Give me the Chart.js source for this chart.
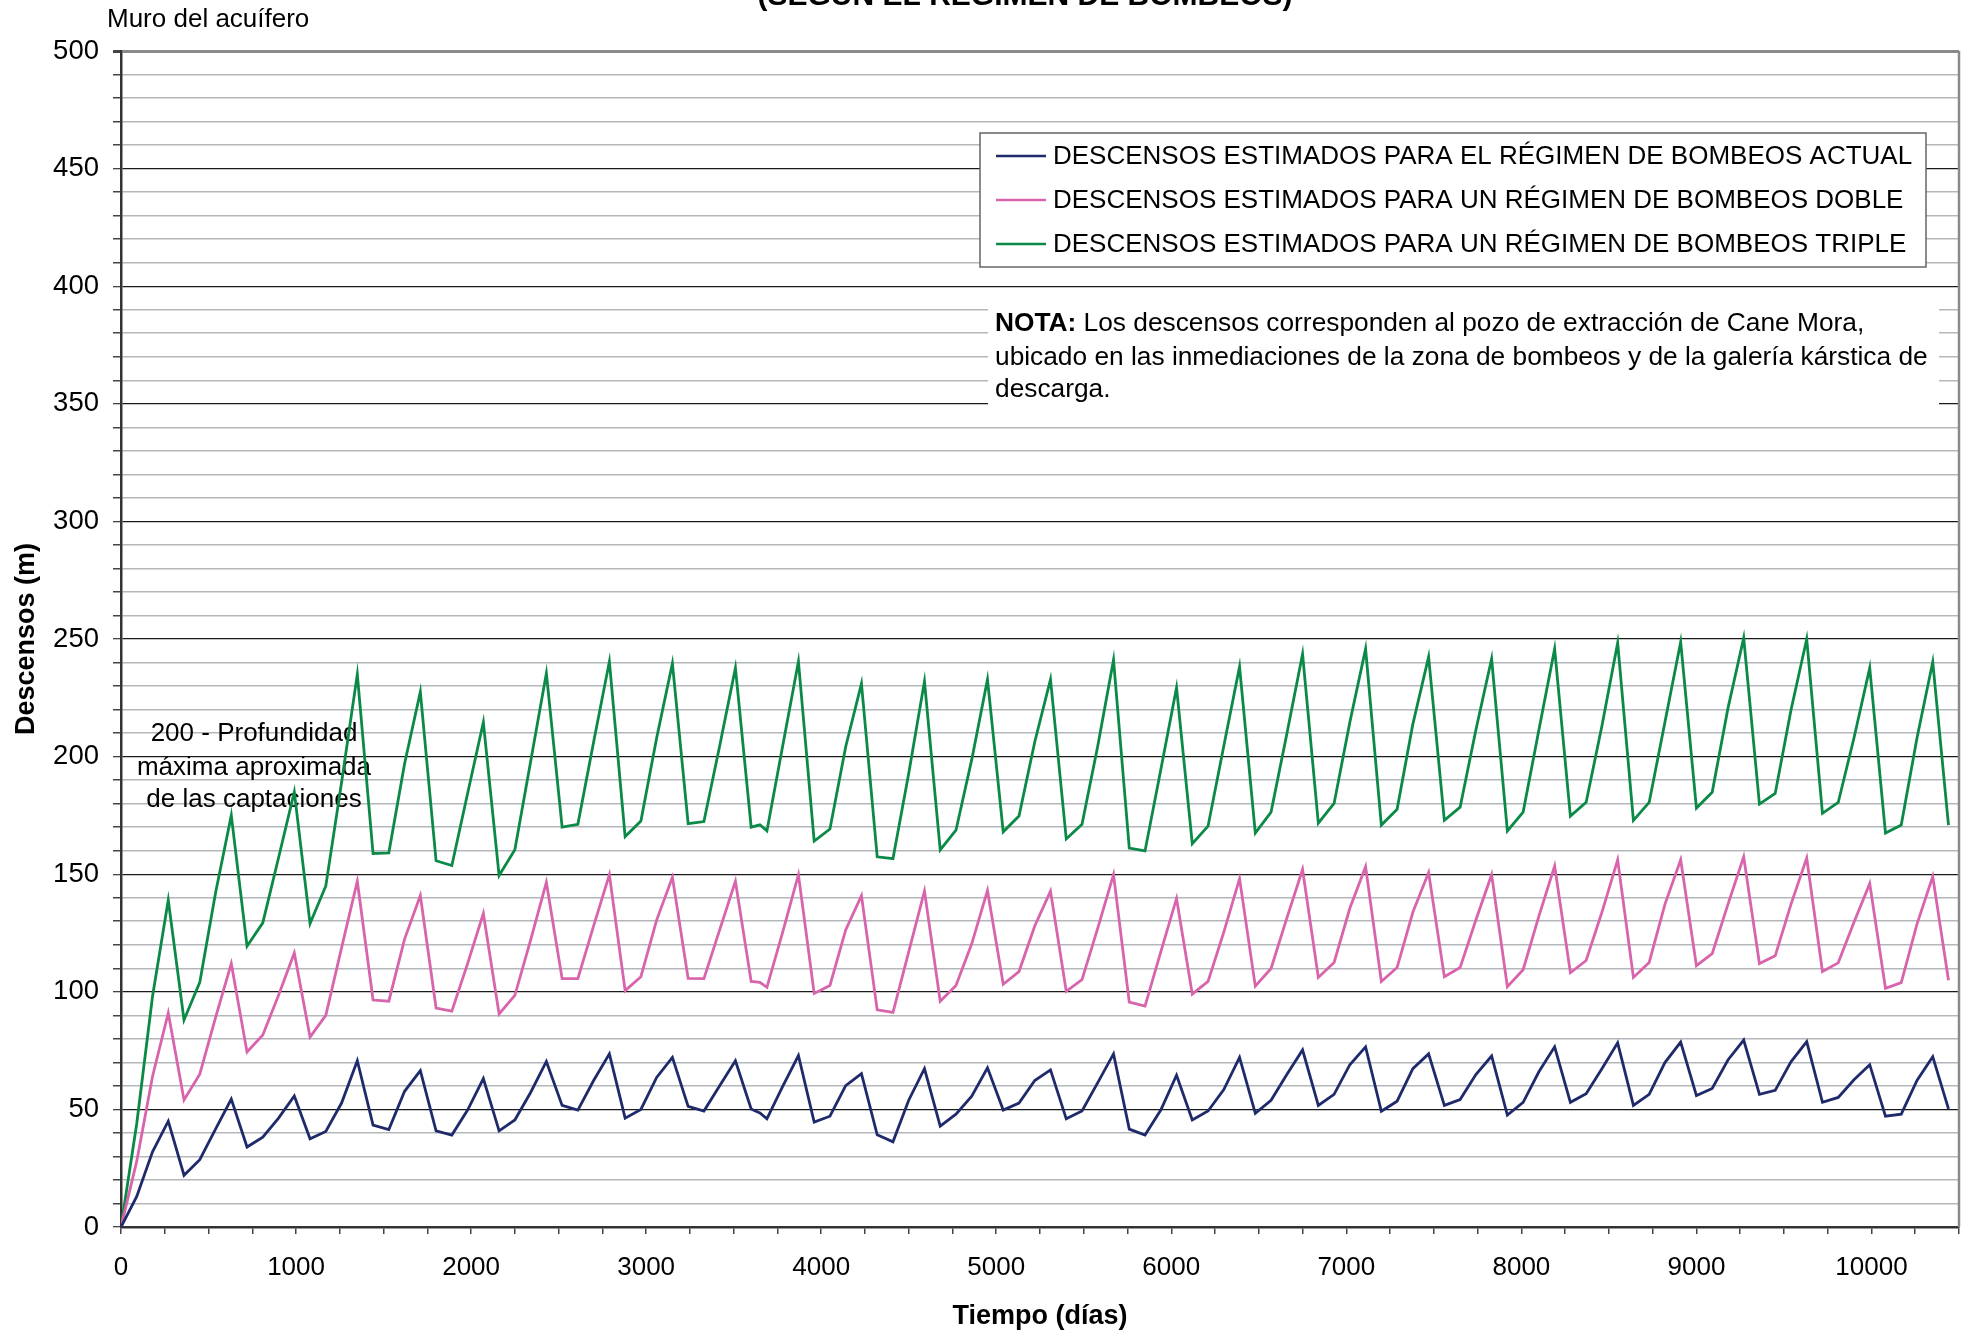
<!DOCTYPE html>
<html>
<head>
<meta charset="utf-8">
<script src="https://cdn.jsdelivr.net/npm/chart.js@4.4.1/dist/chart.umd.min.js"></script>
<style>
  html, body { margin: 0; padding: 0; background: #fff; }
  #wrap { width: 1966px; height: 1333px; }
</style>
</head>
<body>
<div id="wrap"><canvas id="descensos" width="1966" height="1333"></canvas></div>
<script>
// Tiempo (días) de cada punto calculado
const dias = [0, 90, 180, 270, 360, 450, 540, 630, 720, 810, 900, 990, 1080, 1170, 1260, 1350, 1440, 1530, 1620, 1710,
  1800, 1890, 1980, 2070, 2160, 2250, 2340, 2430, 2520, 2610, 2700, 2790, 2880, 2970, 3060, 3150, 3240, 3330, 3420, 3510,
  3600, 3650, 3690, 3780, 3870, 3960, 4050, 4140, 4230, 4320, 4410, 4500, 4590, 4680, 4770, 4860, 4950, 5040, 5130, 5220,
  5310, 5400, 5490, 5580, 5670, 5760, 5850, 5940, 6030, 6120, 6210, 6300, 6390, 6480, 6570, 6660, 6750, 6840, 6930, 7020,
  7110, 7200, 7290, 7380, 7470, 7560, 7650, 7740, 7830, 7920, 8010, 8100, 8190, 8280, 8370, 8460, 8550, 8640, 8730, 8820,
  8910, 9000, 9090, 9180, 9270, 9360, 9450, 9540, 9630, 9720, 9810, 9900, 9990, 10080, 10170, 10260, 10350, 10440];

// Descensos (m) - régimen actual
const actual = [0, 13, 32, 45, 22, 28.6, 41.6, 54.4, 34, 38.2, 46.3, 55.7, 37.5, 40.6, 52.7, 70.7, 43.3, 41.4, 57.7, 66.5,
  40.9, 39.1, 49.7, 63.1, 40.9, 45.5, 57.2, 70.4, 51.7, 49.7, 62.3, 73.6, 46.3, 50, 63.6, 72.1, 51.3, 49.3, 60.1, 70.7,
  50.2, 48.5, 46, 59.8, 72.9, 44.6, 47.1, 60.1, 65.2, 39.2, 36.2, 53.9, 67.3, 42.9, 48, 55.6, 67.7, 49.7, 52.7, 62.3,
  66.8, 46, 49.3, 61.4, 73.6, 41.6, 39.1, 49.7, 64.5, 45.5, 49.3, 58.4, 72.1, 48.3, 53.9, 64.8, 75.3, 51.7, 56.4, 69,
  76.6, 49.2, 53.5, 67.3, 73.6, 51.7, 54.2, 64.8, 72.7, 47.6, 53, 66, 76.6, 53, 56.7, 67.3, 78.3, 51.7, 56.4, 69.9,
  78.6, 55.9, 58.9, 71, 79.5, 56.4, 58.1, 70.2, 78.8, 53, 55.1, 62.6, 69, 47.1, 48, 62.3, 72.4, 50.2];

// Descensos (m) - régimen doble
const doble = [0, 28, 64, 91, 54, 65, 89, 112, 74.4, 81.6, 98.5, 116.5, 80.8, 90, 118.7, 147, 96.5, 96, 122.4, 140.9,
  93.1, 91.8, 112, 133.3, 90.6, 98.5, 122, 146.5, 105.6, 105.6, 128, 149.8, 100.5, 106.4, 130.5, 148.7, 105.7, 105.6, 126.3, 147,
  104.4, 104, 101.9, 125.4, 149.8, 99.3, 102.7, 126.3, 140.9, 92.3, 91.2, 117, 142.8, 96, 102.7, 120.4, 143.1, 103.2, 108.6, 128,
  142.8, 100.2, 105.2, 127.1, 149.8, 95.6, 93.9, 117, 139.7, 99, 104.4, 125.4, 148.1, 102.4, 109.9, 131.3, 152, 106.1, 112.5, 135.5,
  153.2, 104.4, 110.3, 133.8, 150.7, 106.4, 110.3, 130.5, 149.8, 102.2, 109.4, 132.2, 153.5, 108.1, 113.3, 133.8, 156.1, 106.1, 112.5, 137.2,
  156.1, 111.1, 116.2, 137.2, 157.4, 112, 115.3, 137.2, 156.9, 108.6, 112.3, 129.6, 146, 101.5, 103.9, 128.8, 149, 104.9];

// Descensos (m) - régimen triple
const triple = [0, 44, 98, 139, 88, 104, 142, 175, 119.4, 129.3, 157, 185, 129, 145, 189, 235, 158.8, 159.1, 197, 227.5,
  155.7, 153.7, 184.3, 214.6, 149.5, 160.4, 197.8, 235.4, 170, 171.2, 206.2, 240.4, 166, 172.6, 207.9, 239.6, 171.5, 172.4, 204.5, 237.7,
  170, 171, 168.4, 204.5, 240.4, 164.1, 169.2, 204.2, 231, 157.4, 156.6, 192.8, 232, 160.3, 168.7, 198.7, 232.8, 168, 174.7, 206.2,
  232.8, 165, 171.2, 204.5, 241.1, 161.1, 159.9, 194.4, 229.3, 163, 170.4, 204.5, 238.2, 167.5, 176.4, 209.6, 243.6, 171.7, 180.1, 214.6,
  245.8, 170.9, 177.6, 213.8, 242.4, 172.9, 178.5, 211.3, 241.6, 168.4, 176.4, 211.3, 245.8, 174.7, 180.6, 213, 248.3, 172.9, 180.5, 214.6,
  248.7, 178.1, 184.8, 220.5, 250.5, 179.8, 184.3, 219.7, 250, 175.9, 180.5, 207.9, 237.7, 167.5, 170.9, 207.9, 240.2, 170.9];

const series = [
  "DESCENSOS ESTIMADOS PARA EL RÉGIMEN DE BOMBEOS ACTUAL",
  "DESCENSOS ESTIMADOS PARA UN RÉGIMEN DE BOMBEOS DOBLE",
  "DESCENSOS ESTIMADOS PARA UN RÉGIMEN DE BOMBEOS TRIPLE"
];
const colores = ["#1f2a6b", "#d864ac", "#0a8a46"];

const tituloCortado = "(SEGÚN EL RÉGIMEN DE BOMBEOS)";
const muro = "Muro del acuífero";
const profundidad = ["200 - Profundidad", "máxima aproximada", "de las captaciones"];
const nota = [
  ["NOTA:", " Los descensos corresponden al pozo de extracción de Cane Mora,"],
  ["", "ubicado en las inmediaciones de la zona de bombeos y de la galería kárstica de"],
  ["", "descarga."]
];

const FONT = "'Liberation Sans', Arial, sans-serif";

function toPoints(ys) {
  return dias.map((d, i) => ({ x: d, y: ys[i] }));
}

const anotaciones = {
  id: "anotaciones",
  beforeDatasetsDraw(chart) {
    const ctx = chart.ctx;
    ctx.save();
    ctx.fillStyle = "#000";
    ctx.font = "26px " + FONT;
    ctx.textAlign = "center";
    ctx.textBaseline = "alphabetic";
    const baseY = [741, 775, 807];
    profundidad.forEach((t, i) => ctx.fillText(t, 254, baseY[i]));
    ctx.restore();
  },
  afterDraw(chart) {
    const ctx = chart.ctx;
    const area = chart.chartArea;
    ctx.save();

    // borde derecho del área de trazado
    ctx.strokeStyle = "#8a8a8a";
    ctx.lineWidth = 2.5;
    ctx.beginPath();
    ctx.moveTo(area.right, area.top);
    ctx.lineTo(area.right, area.bottom);
    ctx.stroke();

    // título recortado por arriba
    ctx.fillStyle = "#000";
    ctx.font = "bold 30px " + FONT;
    ctx.textAlign = "center";
    ctx.textBaseline = "alphabetic";
    ctx.fillText(tituloCortado, 1025, 5);

    ctx.font = "26px " + FONT;
    ctx.textAlign = "left";
    ctx.fillText(muro, 107, 27);

    // leyenda
    ctx.fillStyle = "#fff";
    ctx.fillRect(980, 133, 946, 134);
    ctx.strokeStyle = "#666";
    ctx.lineWidth = 1.5;
    ctx.strokeRect(980, 133, 946, 134);
    ctx.textBaseline = "middle";
    chart.data.datasets.forEach((ds, i) => {
      const y = 156 + 44 * i;
      ctx.strokeStyle = ds.borderColor;
      ctx.lineWidth = 2.5;
      ctx.beginPath();
      ctx.moveTo(996, y);
      ctx.lineTo(1046, y);
      ctx.stroke();
      ctx.fillStyle = "#000";
      ctx.fillText(ds.label, 1053, y + 1);
    });

    // nota
    ctx.fillStyle = "#fff";
    ctx.fillRect(988, 290, 951, 118);
    ctx.fillStyle = "#000";
    ctx.textBaseline = "alphabetic";
    const notaY = [331, 365, 397];
    nota.forEach((linea, i) => {
      let x = 995;
      if (linea[0]) {
        ctx.font = "bold 26.3px " + FONT;
        ctx.fillText(linea[0], x, notaY[i]);
        x += ctx.measureText(linea[0]).width;
      }
      ctx.font = "26.3px " + FONT;
      ctx.fillText(linea[1], x, notaY[i]);
    });
    ctx.restore();
  }
};

const xTicks = [];
for (let v = 0; v <= 10500; v += 250) xTicks.push(v);
const yTicks = [];
for (let v = 0; v <= 500; v += 10) yTicks.push(v);

new Chart("descensos", {
  type: "line",
  data: {
    datasets: series.map((label, i) => ({
      label,
      data: toPoints([actual, doble, triple][i]),
      borderColor: colores[i],
      backgroundColor: colores[i],
      borderWidth: 2.8,
      pointRadius: 0,
      tension: 0,
      fill: false
    }))
  },
  options: {
    responsive: false,
    devicePixelRatio: 1,
    animation: false,
    layout: { padding: { top: 51, right: 7, left: 0, bottom: 0 } },
    plugins: {
      legend: { display: false },
      title: { display: false },
      tooltip: { enabled: false }
    },
    scales: {
      x: {
        type: "linear",
        min: 0,
        max: 10500,
        afterBuildTicks: s => { s.ticks = xTicks.map(v => ({ value: v })); },
        afterFit: s => { s.height = 106; s.paddingLeft = 0; s.paddingRight = 0; },
        ticks: {
          autoSkip: false,
          maxRotation: 0,
          padding: 18,
          color: "#000",
          font: { family: FONT, size: 26 },
          callback: v => (v % 1000 === 0 && v <= 10000 ? String(v) : "")
        },
        grid: { drawOnChartArea: false, drawTicks: true, tickLength: 7, tickColor: "#444", lineWidth: 1.5 },
        border: { display: true, color: "#333", width: 2.5 },
        title: {
          display: true,
          text: "Tiempo (días)",
          color: "#000",
          font: { family: FONT, size: 27, weight: "bold" },
          padding: { top: 0, bottom: 0 }
        }
      },
      y: {
        min: 0,
        max: 500,
        afterBuildTicks: s => { s.ticks = yTicks.map(v => ({ value: v })); },
        afterFit: s => { s.width = 121; s.paddingTop = 0; s.paddingBottom = 0; },
        ticks: {
          autoSkip: false,
          padding: 14,
          color: "#000",
          font: { family: FONT, size: 27.5 },
          callback: v => (v % 50 === 0 ? String(v) : "")
        },
        grid: {
          color: c => (c.tick.value === 500 ? "#8a8a8a" : (c.tick.value % 50 === 0 ? "#1a1a1a" : "#b3b7bb")),
          lineWidth: c => (c.tick.value === 500 ? 3 : (c.tick.value % 50 === 0 ? 1.3 : 1.5)),
          tickColor: "#444",
          tickLength: 8
        },
        border: { display: true, color: "#333", width: 2.5 },
        title: {
          display: true,
          text: "Descensos (m)",
          color: "#000",
          font: { family: FONT, size: 27, weight: "bold" },
          padding: { top: 10, bottom: 0 }
        }
      }
    }
  },
  plugins: [anotaciones]
});
</script>
</body>
</html>
